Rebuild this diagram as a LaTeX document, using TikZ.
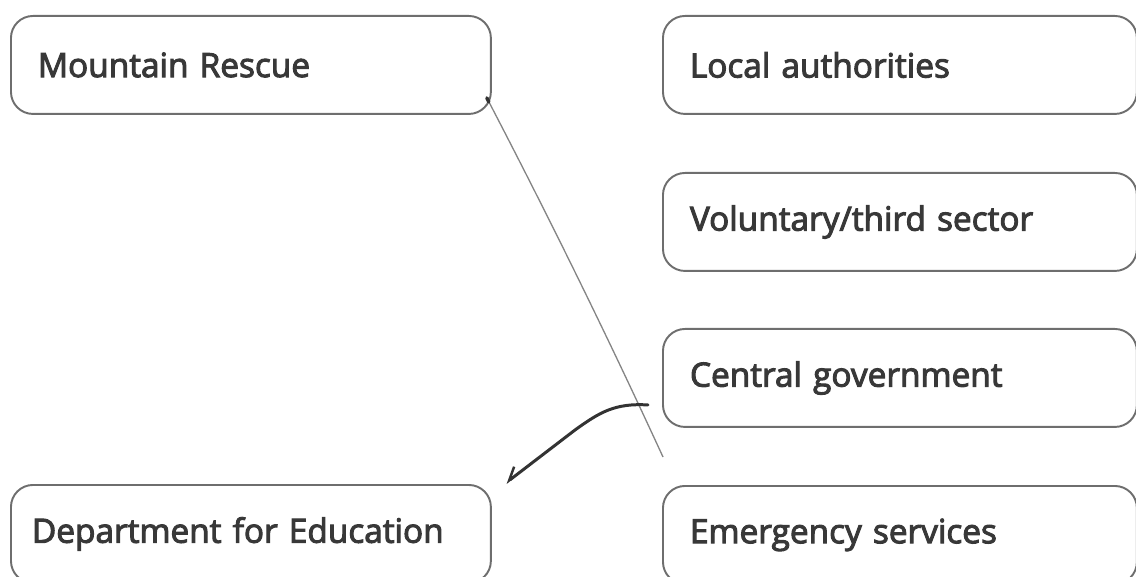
\documentclass[tikz,border=0pt]{standalone}
\usepackage{fontspec}
\setmainfont{Open Sans}
\newfontfamily\boxfont{Open Sans}[FakeBold=3]
\usetikzlibrary{arrows.meta}
\hyphenpenalty=10000

\definecolor{framegrey}{HTML}{6E6E6E}
\definecolor{textgrey}{HTML}{383838}
\definecolor{pencil}{HTML}{858585}
\definecolor{inkgrey}{HTML}{333333}

\tikzset{
  orgbox/.style={draw=framegrey, line width=1.1pt, rounded corners=0.44cm,
    anchor=north west, minimum height=1.96cm, inner xsep=0.54cm,
    text width=8.52cm, align=left, text=textgrey,
    font=\boxfont\fontsize{19}{21}\selectfont},
  rightbox/.style={orgbox, text width=8.4cm},
  pencilline/.style={draw=pencil, line width=0.75pt},
  inkline/.style={draw=inkgrey, line width=1.7pt, line cap=round,
    -{Straight Barb[harpoon,swap,length=7pt,width=9pt,line width=1.4pt]}}
}

\begin{document}
\begin{tikzpicture}[x=0.02cm,y=-0.02cm]
    \useasboundingbox (0,0) rectangle (1136,577);

    % left column
    \node[orgbox] (rescue) at (10,15) {Mountain Rescue};
    \node[orgbox, inner xsep=0.42cm, text width=8.76cm] (edu) at (10,484) {Department for Education};

    % right column
    \node[rightbox] (local) at (662,15) {Local authorities};
    \node[rightbox] (third) at (662,172) {Voluntary/third sector};
    \node[rightbox] (govt) at (662,328) {Central government};
    \node[rightbox] (emerg) at (662,485) {Emergency services};

    % pencil line down from Mountain Rescue
    \coordinate (penstart) at ([shift={(-5,-17)}]rescue.south east);
    \coordinate (penend) at ([shift={(1,-28)}]emerg.north west);
    \draw[pencilline] (penstart) .. controls (540,200) and (600,320) .. (penend);
    \draw[inkgrey, line width=2pt, line cap=round] (penstart) -- ++(2,4);

    % hand drawn arrow from Central government
    \coordinate (inkstart) at ([shift={(-14,27)}]govt.west);
    \coordinate (inkend) at ([shift={(14,-1)}]edu.north east);
    \draw[inkline] (inkstart) .. controls (615,403) and (600,412) .. (575,430) -- (inkend);
\end{tikzpicture}
\end{document}
